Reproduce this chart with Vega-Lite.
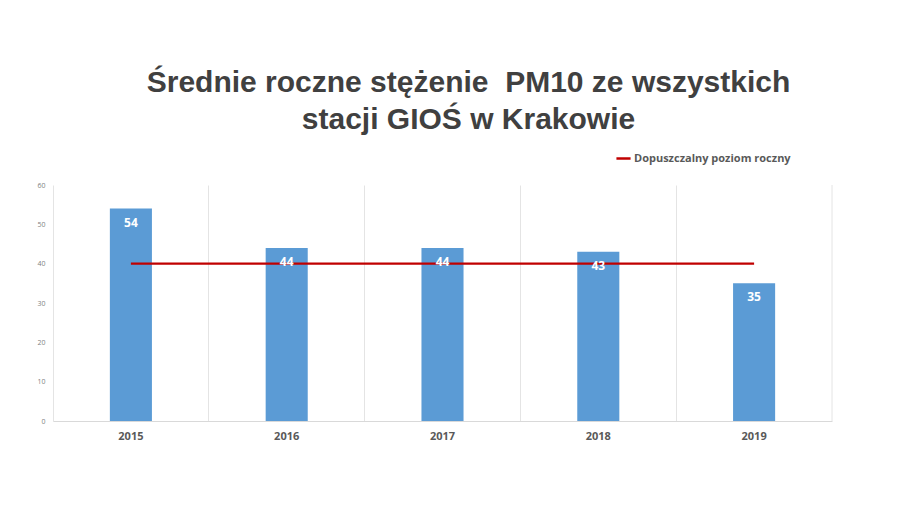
{
  "$schema": "https://vega.github.io/schema/vega-lite/v6.json",
  "autosize": "none",
  "width": 779,
  "height": 236,
  "padding": {"left": 53, "top": 185, "right": 68, "bottom": 85},
  "background": "white",
  "config": {
    "view": {"stroke": null},
    "font": "Liberation Sans",
    "axis": {"labelOverlap": false}
  },
  "title": {
    "text": ["Średnie roczne stężenie\u00a0 PM10 ze wszystkich", "stacji GIOŚ w Krakowie"],
    "fontSize": 30,
    "fontWeight": "bold",
    "font": "Liberation Sans",
    "color": "#404040",
    "lineHeight": 37,
    "anchor": "middle",
    "dx": 26,
    "offset": 15
  },
  "data": {
    "values": [
      {"year": "2015", "value": 54, "limit": 40},
      {"year": "2016", "value": 44, "limit": 40},
      {"year": "2017", "value": 44, "limit": 40},
      {"year": "2018", "value": 43, "limit": 40},
      {"year": "2019", "value": 35, "limit": 40}
    ]
  },
  "encoding": {
    "x": {
      "field": "year",
      "type": "nominal",
      "scale": {"paddingInner": 0, "paddingOuter": 0},
      "axis": {
        "title": null,
        "labelAngle": 0,
        "labelFont": "Open Sans",
        "labelFontSize": 11,
        "labelFontWeight": "bold",
        "labelColor": "#595959",
        "labelPadding": 9,
        "ticks": false,
        "domainColor": "#d9d9d9",
        "grid": true,
        "gridColor": "#e4e4e4",
        "bandPosition": 0,
        "labelBound": false
      }
    }
  },
  "layer": [
    {
      "mark": {"type": "bar", "color": "#5B9BD5", "width": {"band": 0.27}},
      "encoding": {
        "y": {
          "field": "value",
          "type": "quantitative",
          "scale": {"domain": [0, 60]},
          "axis": {
            "title": null,
            "tickCount": 6,
            "labelOverlap": false,
            "grid": false,
            "domain": false,
            "ticks": false,
            "labelFont": "Open Sans",
            "labelFontSize": 7,
            "labelColor": "#7f7f7f",
            "labelPadding": 8
          }
        }
      }
    },
    {
      "mark": {"type": "line", "strokeWidth": 2.2},
      "encoding": {
        "y": {"field": "limit", "type": "quantitative"},
        "color": {
          "datum": "Dopuszczalny poziom roczny",
          "type": "nominal",
          "scale": {"range": ["#C00000"]},
          "legend": {
            "title": null,
            "orient": "none",
            "legendX": 562,
            "legendY": -35,
            "symbolType": "stroke",
            "symbolStrokeWidth": 2.5,
            "symbolSize": 200,
            "labelFont": "Open Sans",
            "labelFontSize": 11,
            "labelFontWeight": "bold",
            "labelColor": "#595959",
            "labelOffset": 2
          }
        }
      }
    },
    {
      "mark": {"type": "text", "color": "white", "fontWeight": "bold", "fontSize": 12, "font": "Open Sans", "dy": 14},
      "encoding": {
        "y": {"field": "value", "type": "quantitative"},
        "text": {"field": "value", "type": "quantitative"}
      }
    },
    {
      "mark": {"type": "rule", "color": "#e4e4e4", "strokeWidth": 1},
      "data": {"values": [{"edge": 60}]},
      "encoding": {
        "x": {"datum": "2019", "type": "nominal", "bandPosition": 1},
        "y": {"datum": 0, "type": "quantitative"},
        "y2": {"datum": 60}
      }
    }
  ]
}
